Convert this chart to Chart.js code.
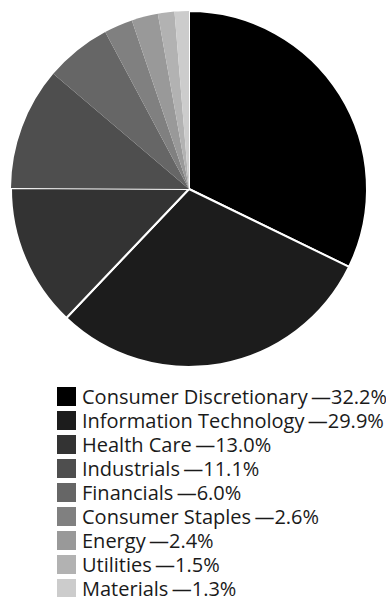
<!DOCTYPE html>
<html>
<head>
<meta charset="utf-8">
<script src="https://cdn.jsdelivr.net/npm/chart.js@4"></script>
<style>
  html, body { margin: 0; padding: 0; background: #fff; width: 386px; height: 597px; overflow: hidden; }
  #pieWrap { position: absolute; left: 0; top: 0; width: 386px; height: 378px; }
  #legend { position: absolute; left: 0; top: 384px; width: 386px; font-family: "Open Sans", sans-serif; font-size: 20px; color: #1a1a1a; white-space: nowrap; }
  .row { display: flex; align-items: center; height: 24px; }
  .sw { width: 19px; height: 19px; margin-left: 57px; margin-right: 6px; flex: none; }
</style>
</head>
<body>
<div id="pieWrap"><canvas id="c" width="386" height="378"></canvas></div>
<div id="legend"></div>
<script>
const categories = ["Consumer Discretionary", "Information Technology", "Health Care", "Industrials", "Financials", "Consumer Staples", "Energy", "Utilities", "Materials"];
const values = [32.2, 29.9, 13.0, 11.1, 6.0, 2.6, 2.4, 1.5, 1.3];
const colors = ["#000000", "#1c1c1c", "#333333", "#4e4e4e", "#666666", "#808080", "#999999", "#b2b2b2", "#cccccc"];
const borderWidths = [2, 2, 2, 0, 0, 0, 0, 0, 0];

new Chart(document.getElementById("c"), {
  type: "pie",
  data: {
    labels: categories,
    datasets: [{
      data: values,
      backgroundColor: colors,
      borderColor: "#ffffff",
      borderWidth: borderWidths,
      hoverOffset: 0,
      offset: 0
    }]
  },
  options: {
    responsive: false,
    animation: false,
    layout: { padding: { left: 10, right: 18, top: 9, bottom: 9 } },
    plugins: { legend: { display: false }, tooltip: { enabled: false } }
  }
});

const legend = document.getElementById("legend");
categories.forEach((cat, i) => {
  const row = document.createElement("div");
  row.className = "row";
  const sw = document.createElement("span");
  sw.className = "sw";
  sw.style.background = colors[i];
  const txt = document.createElement("span");
  txt.textContent = cat + "\u2009\u2014" + values[i].toFixed(1) + "%";
  row.appendChild(sw);
  row.appendChild(txt);
  legend.appendChild(row);
});
</script>
</body>
</html>
